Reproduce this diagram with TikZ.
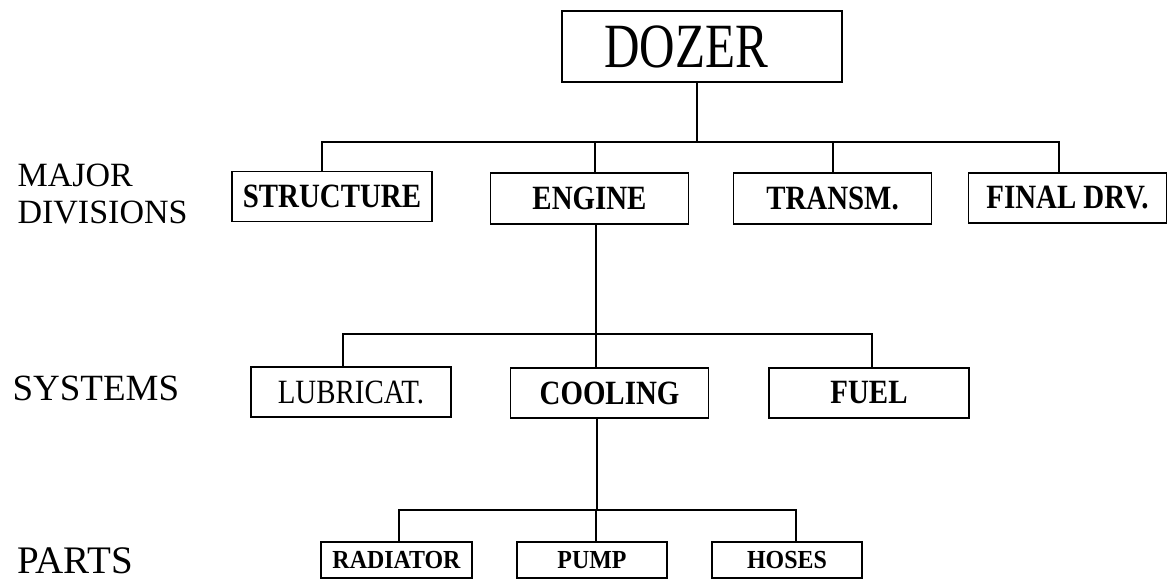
\documentclass[tikz,border=0pt]{standalone}
\usepackage{fontspec}
\setmainfont{Liberation Serif}
\newfontfamily\topfont[FakeStretch=0.78]{Liberation Serif}
\newfontfamily\boxfont[FakeStretch=0.85]{Liberation Serif}
\newfontfamily\partfont[FakeStretch=0.92]{Liberation Serif}
\usetikzlibrary{calc}

\begin{document}
\begin{tikzpicture}[x=1pt, y=-1pt, line width=1.1pt,
	box/.style={draw, inner sep=0pt, minimum width=198pt, minimum height=50pt,
		font=\boxfont\bfseries\fontsize{34}{36}\selectfont},
	partbox/.style={draw, inner sep=0pt, minimum width=150pt, minimum height=36pt,
		font=\partfont\bfseries\fontsize{26}{28}\selectfont},
	lvl/.style={inner sep=0pt, align=left}]
	\useasboundingbox (0,0) rectangle (1168,580);
	% top of the tree
	\node[draw, inner sep=0pt, minimum width=280pt, minimum height=71pt,
		font=\topfont\fontsize{63}{65}\selectfont] (dozer) at (702,46.5) {\hspace*{-32pt}DOZER};
	% major divisions
	\node[box, minimum width=200pt] (structure) at (332,196.5) {STRUCTURE};
	\node[box, minimum height=51pt] (engine) at (589.5,198.5) {ENGINE};
	\node[box, minimum height=51pt] (transm) at (832.5,198.5) {TRANSM.};
	\node[box] (finaldrv) at (1067.5,198) {FINAL DRV.};
	% systems of the engine
	\node[box, minimum width=200pt, font=\boxfont\fontsize{34}{36}\selectfont] (lubricat) at (351,392) {LUBRICAT.};
	\node[box] (cooling) at (609.5,393) {COOLING};
	\node[box, minimum width=200pt] (fuel) at (869,393) {FUEL};
	% parts of the cooling system
	\node[partbox, minimum width=151pt] (radiator) at (396.5,560) {RADIATOR};
	\node[partbox] (pump) at (592,560) {PUMP};
	\node[partbox] (hoses) at (787,560) {HOSES};
	% level names
	\node[lvl, anchor=north west, font=\fontsize{34}{37}\selectfont] (lvlmajor) at (17,163) {MAJOR\\DIVISIONS};
	\node[lvl, anchor=base west, font=\fontsize{37}{39}\selectfont] (lvlsys) at (12,400) {SYSTEMS};
	\node[lvl, anchor=base west, font=\fontsize{39}{41}\selectfont] (lvlparts) at (17,573) {PARTS};
	% connectors
	\coordinate (busA) at (697,142);
	\coordinate (busB) at (596,334);
	\coordinate (busC) at (597,510);
	\draw (dozer.south -| busA) -- (busA);
	\draw ([xshift=-10pt]structure.north) |- (busA) -| ([xshift=-8.5pt]finaldrv.north);
	\draw ([xshift=5.5pt]engine.north) -- ([xshift=5.5pt]engine.north |- busA);
	\draw ([xshift=0.5pt]transm.north) -- ([xshift=0.5pt]transm.north |- busA);
	\draw (engine.south -| busB) -- (busB);
	\draw ([xshift=-8pt]lubricat.north) |- (busB) -| ([xshift=3pt]fuel.north);
	\draw (cooling.north -| busB) -- (busB);
	\draw (cooling.south -| busC) -- (busC);
	\draw ([xshift=2.5pt]radiator.north) |- (busC) -| ([xshift=9pt]hoses.north);
	\draw ([xshift=4pt]pump.north) -- ([xshift=4pt]pump.north |- busC);
\end{tikzpicture}
\end{document}
